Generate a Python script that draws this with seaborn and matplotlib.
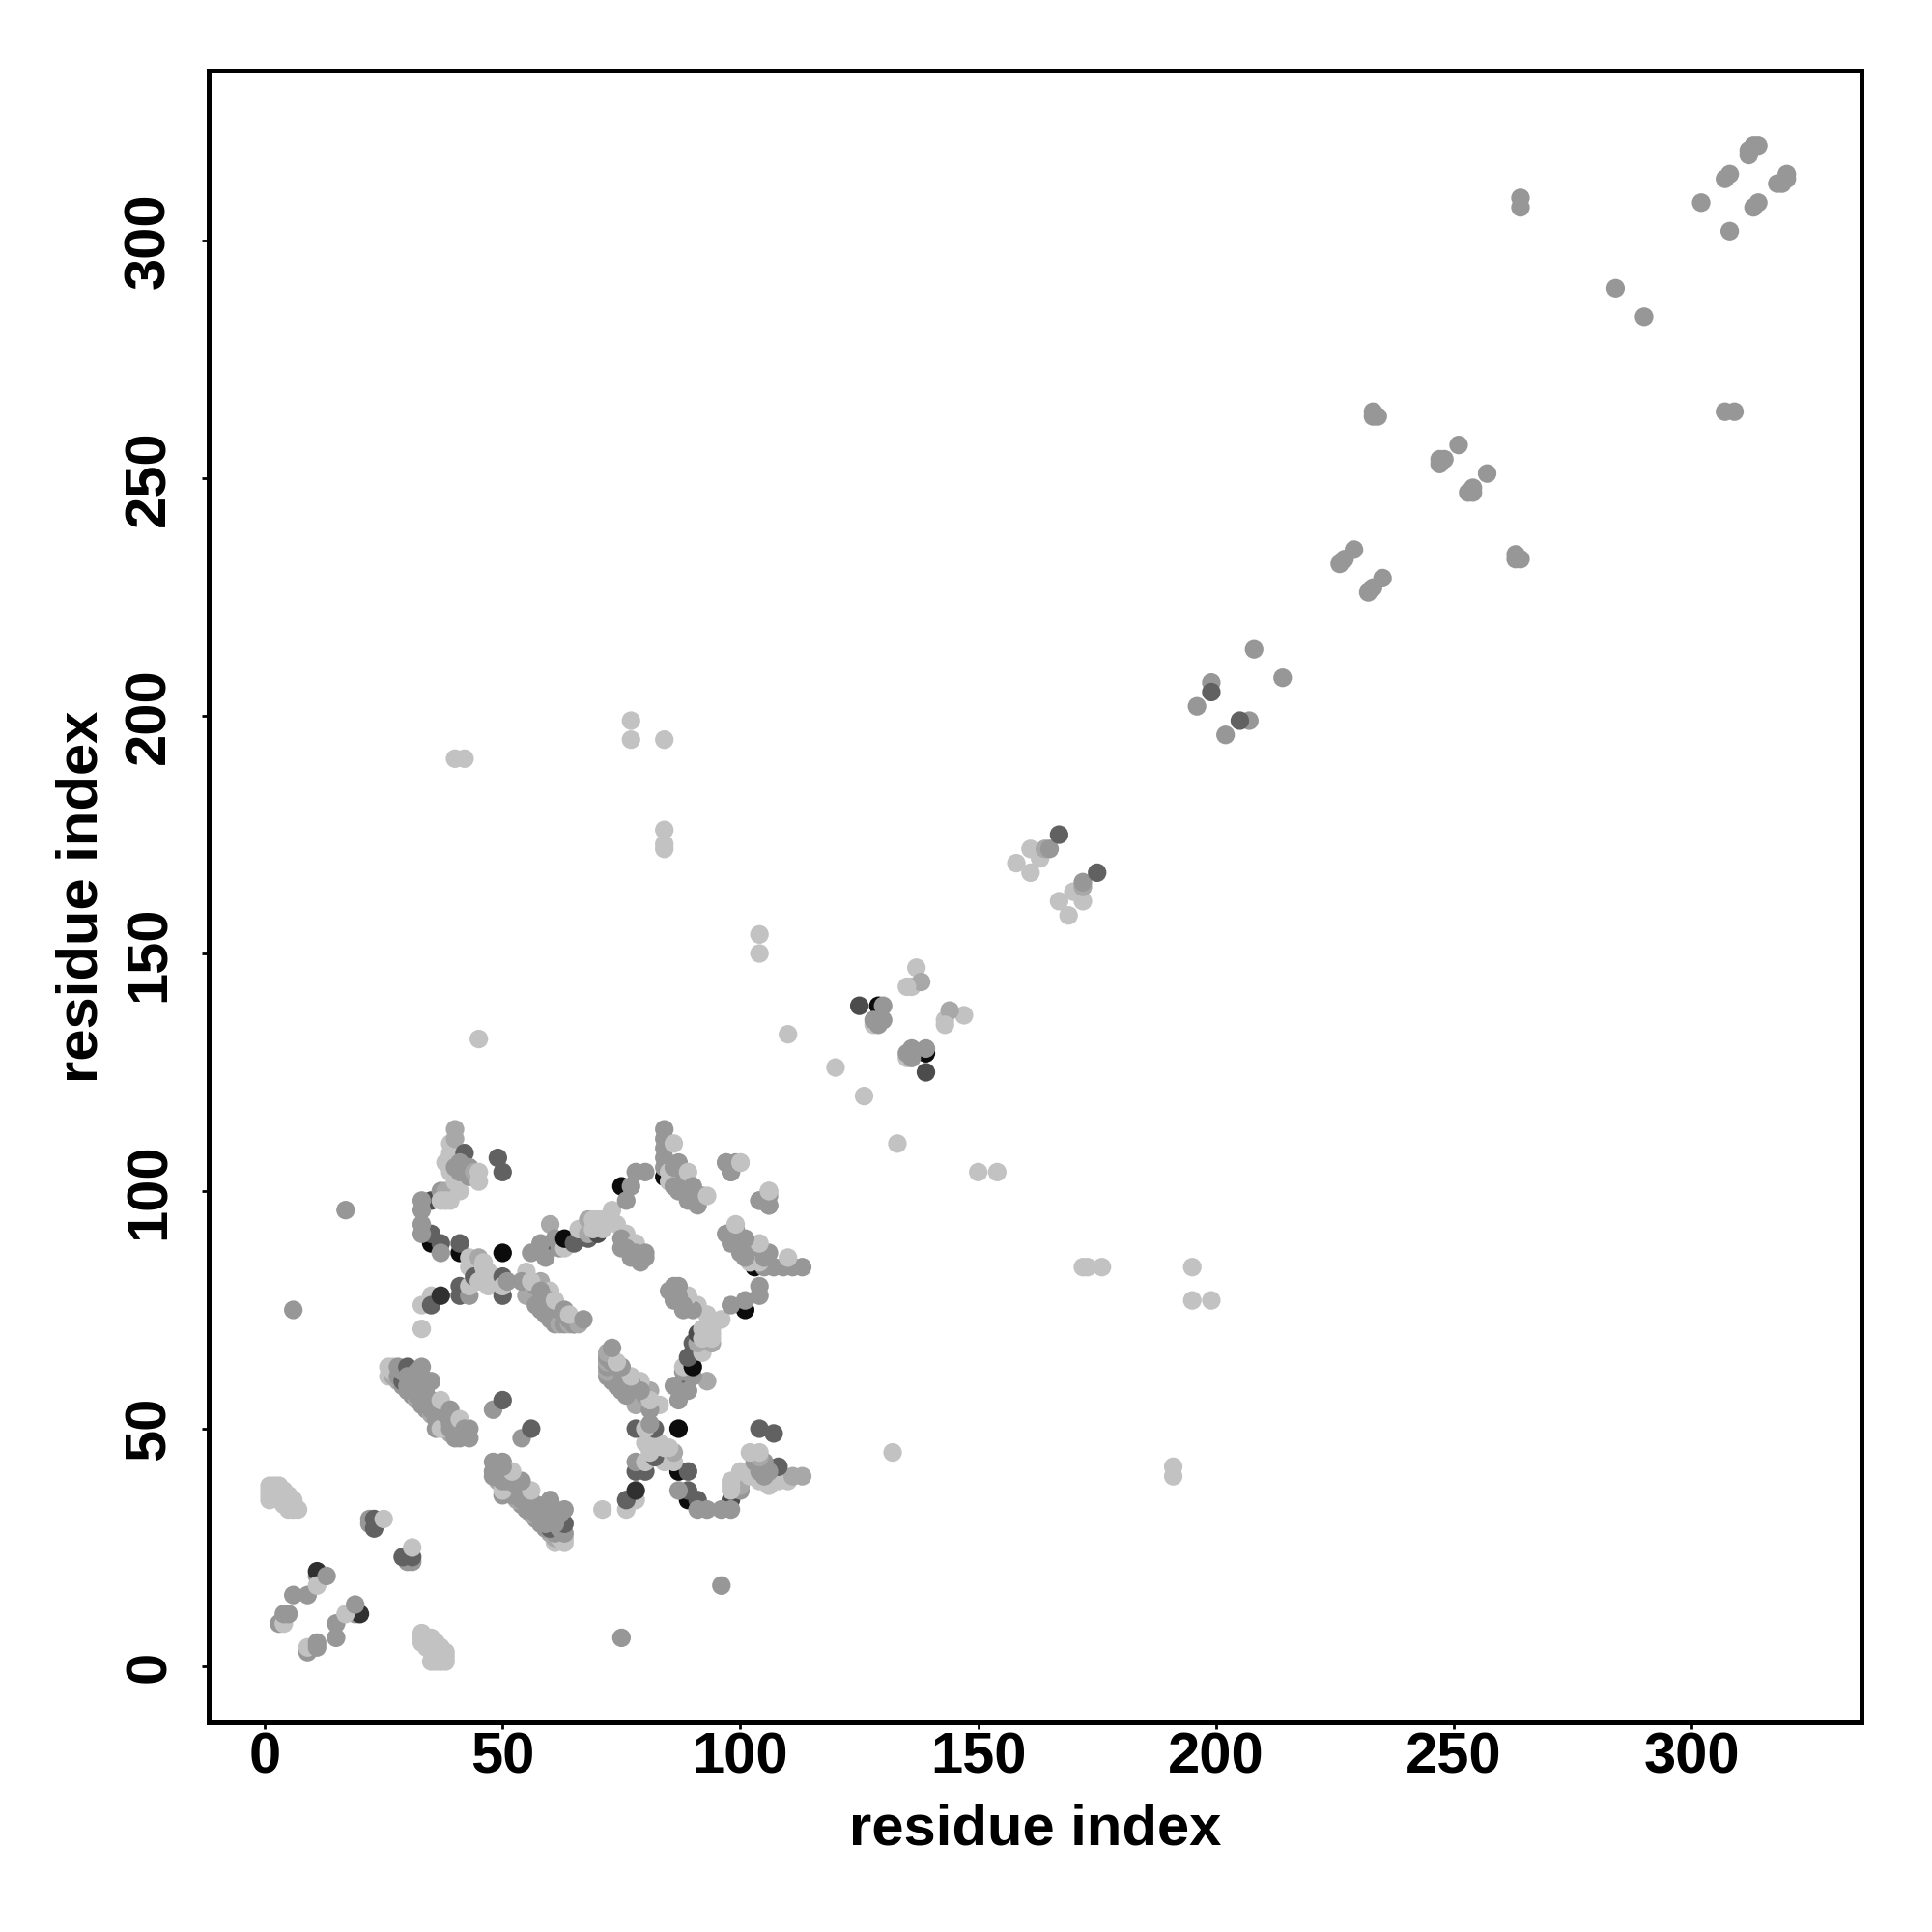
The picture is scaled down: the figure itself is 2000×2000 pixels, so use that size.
import pandas as pd
import matplotlib
matplotlib.use("Agg")
import matplotlib.pyplot as plt
import seaborn as sns

# contact map, only i < j is listed, the other half is the mirror of it
# shade letters: grey level of each contact
levels = {"L": 0.76, "P": 0.66, "M": 0.59, "S": 0.38, "D": 0.30, "E": 0.19, "K": 0.05}

diag_i = [3, 4, 4, 5, 6, 9, 11, 11, 11, 13, 22, 22, 23, 23, 25]
diag_j = [9, 9, 11, 11, 15, 15, 19, 20, 17, 19, 30, 31, 29, 31, 31]
diag_g = "MLMMM" "MMELM" "MMSSL"

pale_i = [1, 1, 1, 1, 2, 2, 3, 3, 3, 3, 4, 4, 4, 5, 5, 5, 5, 6, 6, 6, 7]
pale_j = [35, 36, 37, 38, 36, 38, 38, 35, 36, 37, 36, 37, 34, 33, 34, 35, 36, 33, 34, 35, 33]
pale_g = "L" * 21

a_low_i = [26, 27, 28, 29, 30, 31, 32, 33, 34, 35, 36, 37, 38, 39, 40]
a_low_j = [61, 61, 60, 59, 58, 57, 56, 55, 54, 53, 52, 51, 50, 49, 48]
a_low_g = "LPPMM" "MPMMP" "MLMPM"

a_i = [26, 27, 27, 28, 28, 29, 29, 30, 30, 30, 31, 31, 32, 32, 32, 33, 33, 33, 34, 34, 34, 35, 35,
       36, 36, 36, 37, 37, 37, 38, 39, 39, 39, 40, 40, 40, 41, 41, 42, 43, 43, 33, 35, 37, 39, 41, 42, 48, 50]
a_j = [63, 63, 62, 63, 61, 60, 62, 63, 59, 61, 58, 60, 57, 59, 62, 56, 58, 61, 59, 55, 57, 54, 56,
       50, 53, 55, 52, 50, 54, 53, 51, 50, 53, 49, 50, 52, 48, 51, 49, 48, 50, 63, 60, 56, 54, 52, 50, 54, 56]
a_g = "LLLMM" "SMSMM" "MMMMM" "MMMMM" "MMM" "MMMML" "MMMMM" "MMMMM" "M" "MMMLM" "MMMMS"
a_g = a_g[:41] + "MMLMLM" + "MS"

b_i = [35, 41, 37, 35, 41, 35, 37, 33, 33, 33, 33, 37, 38, 37, 38, 39, 41, 50,
       38, 39, 39, 39, 40, 40, 40, 40, 41, 42, 41, 43, 43, 44, 45, 45, 49, 50,
       33, 33, 35, 35, 37, 41, 41, 43, 43, 43, 43, 44, 44, 44, 45, 46, 46, 45, 47, 47, 46, 50, 50, 50, 51]
b_j = [89, 87, 89, 91, 89, 98, 87, 98, 96, 93, 91, 100, 100, 98, 98, 98, 100, 87,
       106, 110, 108, 104, 102, 111, 113, 105, 104, 108, 106, 105, 103, 104, 102, 104, 107, 104,
       71, 76, 78, 76, 78, 80, 78, 78, 80, 86, 84, 85, 83, 82, 86, 85, 84, 81, 83, 80, 82, 82, 78, 80, 81]
b_g = "KKSSS" "DMMMM" "MMPLL" "LLK" "LLLLL" "PPMMS" "MMMPL" "LSS" "LLLSE" "SSMLL" "LLLSP" "LLLLL" "LSSLM"

c_low_i = [55, 57, 58, 59, 60, 61, 62, 63, 64, 65]
c_low_j = [78, 76, 75, 74, 73, 72, 72, 72, 72, 72]
c_low_g = "PMMMM" "MPMPM"

c_i = [55, 54, 57, 58, 59, 60, 60, 61, 62, 63, 64, 65, 66, 56, 58, 61, 63, 64, 67,
       60, 56, 58, 59, 60, 61, 62, 63, 63, 65, 66, 68, 66, 68, 68, 70, 69, 70, 71, 69, 71,
       73, 74, 76, 75, 75, 77, 78, 79, 76, 78, 80, 80, 75, 76, 77, 78, 80]
c_j = [83, 81, 80, 81, 78, 79, 77, 76, 75, 74, 73, 72, 72, 81, 79, 77, 75, 74, 73,
       88, 87, 89, 86, 93, 90, 88, 88, 90, 89, 90, 90, 92, 91, 94, 91, 92, 94, 92, 94, 94,
       96, 93, 91, 90, 88, 86, 89, 85, 88, 87, 87, 86, 101, 98, 101, 104, 104]
c_g = "LMMPM" "LMMMM" "MMP" "LMLMLM" "SMMMP" "MMLKS" "SSLPP" "DLLLL" "LLL" "LMMML" "MMMMM" "KMMMM"

d_i = [84, 84, 84, 84, 84, 85, 84, 85, 86, 86, 87, 86, 87, 88, 89, 89, 90, 90, 91, 92, 93,
       97, 98, 99, 100, 104, 106, 106]
d_j = [103, 107, 109, 111, 113, 102, 105, 104, 110, 105, 106, 101, 100, 102, 104, 98, 101, 99, 97, 99, 99,
       106, 104, 106, 106, 98, 97, 100]
d_g = "KMMMM" "LMLLM" "MMMML" "MMMMM" "L" "MMML" "MML"

far_i = [6, 17, 40, 42, 77, 77, 84, 84, 84, 84, 104, 104, 110, 45, 120, 264, 264, 284]
far_j = [75, 96, 191, 191, 199, 195, 195, 176, 172, 173, 154, 150, 133, 132, 126, 309, 307, 290]
far_g = "MMLLL" "LLLLL" "LLLLL" "MMM"

e_i = [125, 129, 130, 128, 129, 128, 130, 137, 136, 138, 135]
e_j = [139, 139, 139, 135, 135, 136, 136, 147, 143, 144, 143]
e_g = "DKMLM" "MMLLPL"

f_i = [158, 161, 161, 163, 164, 165, 167, 196, 199, 199, 208, 226, 227, 229, 233, 233, 234]
f_j = [169, 167, 172, 170, 172, 172, 175, 202, 207, 205, 214, 232, 233, 235, 263, 264, 263]
f_g = "LLLLP" "MSMMS" "MMMMM" "MM"

h_i = [247, 247, 248, 251, 302, 307, 308, 312, 312, 313, 314]
h_j = [253, 254, 254, 257, 308, 313, 314, 318, 319, 320, 320]
h_g = "MMMMM" "MMMMM" "M"

ticks = [0, 50, 100, 150, 200, 250, 300]
label = "residue index"

res_i = diag_i + pale_i + a_low_i + a_i + b_i + c_low_i + c_i + d_i + far_i + e_i + f_i + h_i
res_j = diag_j + pale_j + a_low_j + a_j + b_j + c_low_j + c_j + d_j + far_j + e_j + f_j + h_j
shade = diag_g + pale_g + a_low_g + a_g + b_g + c_low_g + c_g + d_g + far_g + e_g + f_g + h_g

half = pd.DataFrame({"x": res_i, "y": res_j, "gray": [levels[s] for s in shade]})
df = pd.concat([half, half.rename(columns={"x": "y", "y": "x"})[["x", "y", "gray"]]])

sns.set_style("white")
plt.rcParams["font.family"] = ["Liberation Sans", "DejaVu Sans"]
plt.rcParams["font.weight"] = "bold"

fig, ax = plt.subplots(figsize=(10, 10), dpi=200)
fig.subplots_adjust(left=0.108, right=0.9635, top=0.9635, bottom=0.1085)

sns.scatterplot(data=df, x="x", y="y", hue="gray", palette="gray", hue_norm=(0, 1),
                s=48, linewidth=0, legend=False, ax=ax)

ax.set_xlim(-11.8, 335.7)
ax.set_ylim(-11.8, 335.8)
ax.set_xticks(ticks)
ax.set_yticks(ticks)
ax.tick_params(axis="x", length=2.5, width=1, labelsize=21.5, pad=1, color="black", labelcolor="black", bottom=True)
ax.tick_params(axis="y", length=2.5, width=1, labelsize=21.5, pad=9.5, color="black", labelcolor="black", left=True)
for t in ax.get_yticklabels():
    t.set_rotation(90)
    t.set_va("center")
for s in ax.spines.values():
    s.set_linewidth(1.8)
    s.set_color("black")

ax.set_xlabel(label, fontsize=21.5, fontweight="bold", color="black")
ax.set_ylabel(label, fontsize=21.5, fontweight="bold", color="black")
ax.xaxis.set_label_coords(0.5, -0.0486)
ax.yaxis.set_label_coords(-0.0604, 0.5)

fig.savefig("out.png", dpi=200)
